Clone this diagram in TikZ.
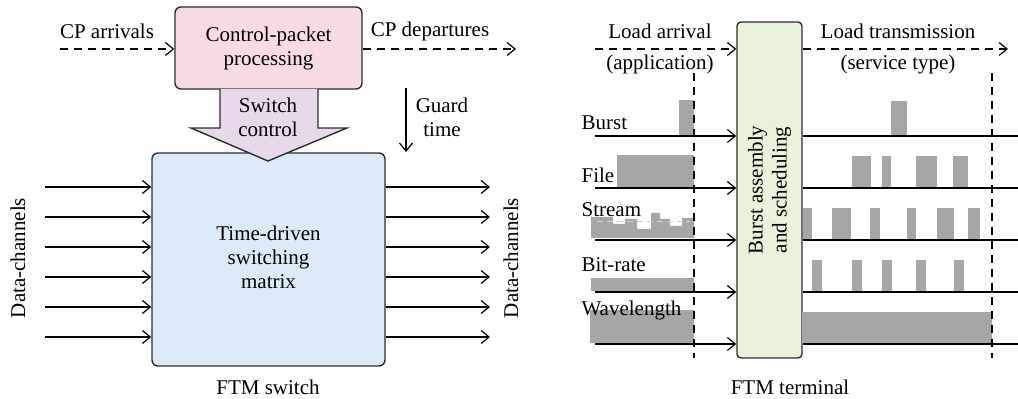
\documentclass[tikz,border=0pt]{standalone}
\usepackage{fontspec}
\setmainfont{Liberation Serif}
\usetikzlibrary{arrows.meta}
\definecolor{cppink}{RGB}{249,219,232}
\definecolor{ctrllilac}{RGB}{231,217,234}
\definecolor{matblue}{RGB}{220,234,247}
\definecolor{asmgreen}{RGB}{233,242,218}
\definecolor{bargray}{RGB}{166,166,166}
\definecolor{edgegray}{RGB}{45,45,45}

\begin{document}
\begin{tikzpicture}[x=0.5pt, y=-0.5pt, line width=0.6pt,
    font=\fontsize{10.5}{12}\selectfont,
    >={Straight Barb[length=4pt,width=6.5pt]},
    box/.style={draw=edgegray, line width=0.7pt, rounded corners=3pt, align=center, inner sep=0pt},
    flow/.style={->, dash pattern=on 4pt off 3pt},
    guide/.style={dash pattern=on 4pt off 3pt},
    chan/.style={->},
    bar/.style={fill=bargray}]
    \useasboundingbox (0,0) rectangle (1018,399);

    % FTM switch
    \node[box, fill=cppink, minimum width=93.5pt, minimum height=41pt] (cpp) at (268.5,48) {Control-packet\\processing};
    \node[box, fill=matblue, minimum width=116.5pt, minimum height=106.5pt] (sw) at (268.5,259.5) {};
    \node[align=center] (swl) at (268.5,257) {Time-driven\\switching\\matrix};

    % Switch control arrow
    \draw[draw=edgegray, line width=0.7pt, fill=ctrllilac]
        (220,89) -- (220,128) -- (191,128) -- (268,161) -- (347,128) -- (318,128) -- (318,89);
    \node[align=center] (swc) at (268,117) {Switch\\control};

    % Control packets
    \coordinate (cpin) at (60,49);
    \coordinate (cpout) at (516,49);
    \draw[flow] (cpin) -- (cpp.west |- cpin);
    \draw[flow] (cpp.east |- cpout) -- (cpout);
    \node (cparr) at (107,31) {CP arrivals};
    \node (cpdep) at (430,31) {CP departures};

    % Guard time
    \coordinate (gtop) at (406,88);
    \coordinate (gbot) at (406,152);
    \draw[->] (gtop) -- (gbot);
    \node[align=center] (guard) at (442,117) {Guard\\time};

    % Data channels
    \foreach \y [count=\i] in {187,217,247,277,307,337} {
        \coordinate (in\i) at (45,\y);
        \coordinate (out\i) at (490,\y);
        \draw[chan] (in\i) -- (in\i -| sw.west);
        \draw[chan] (sw.east |- out\i) -- (out\i);
    }
    \node[rotate=90] (dcin) at (18,258) {Data-channels};
    \node[rotate=90] (dcout) at (511,258) {Data-channels};
    \node (swname) at (268,387) {FTM switch};

    % FTM terminal
    \node[box, fill=asmgreen, rounded corners=2pt, minimum width=32.5pt, minimum height=168pt] (bas) at (769.5,190) {};
    \node[rotate=90, align=center] (basl) at (bas.center) {Burst assembly\\and scheduling};

    \coordinate (ldin) at (595,49);
    \coordinate (ldout) at (1008,49);
    \draw[flow] (ldin) -- (bas.west |- ldin);
    \draw[flow] (bas.east |- ldout) -- (ldout);
    \node (larr) at (660,31) {Load arrival};
    \node (lapp) at (660,64) {(application)};
    \node (ltx) at (898,31) {Load transmission};
    \node (lsrv) at (898,64) {(service type)};

    % Arriving load
    \fill[bar] (679,100) rectangle (694,136);
    \fill[bar] (617,155) rectangle (694,188);
    \fill[bar] (591,238) -- (591,217) -- (613,217) -- (613,224) -- (625,224) -- (625,219) -- (637,219)
        -- (637,229) -- (651,229) -- (651,213) -- (660,213) -- (660,219) -- (670,219) -- (670,226)
        -- (682,226) -- (682,218) -- (694,218) -- (694,238) -- cycle;
    \draw[gray!35, line width=0.5pt, dash pattern=on 3pt off 2pt] (597,222) -- (690,222);
    \fill[bar] (591,278) rectangle (694,291);
    \fill[bar] (590,310) rectangle (694,343);

    % Transmitted load
    \fill[bar] (891,101) rectangle (907,136);
    \foreach \a/\b in {852/871,882/891,916/937,953/968}
        \fill[bar] (\a,156) rectangle (\b,188);
    \foreach \a/\b in {803/812,832/851,870/880,907/916,937/954,968/980}
        \fill[bar] (\a,208) rectangle (\b,240);
    \foreach \a/\b in {812/822,852/862,882/892,916/926,954/964}
        \fill[bar] (\a,260) rectangle (\b,292);
    \fill[bar] (802,312) rectangle (992,344);

    % Rows
    \foreach \y/\ly/\name [count=\i] in {136/123/Burst,188/175/File,240/210/Stream,292/265/Bit-rate,344/310/Wavelength} {
        \coordinate (src\i) at (595,\y);
        \coordinate (snk\i) at (1018,\y);
        \draw[chan] (src\i) -- (src\i -| bas.west);
        \draw (bas.east |- snk\i) -- (snk\i);
        \node[anchor=west, inner sep=0pt] (row\i) at (581,\ly) {\name};
    }

    % Guides
    \coordinate (ga) at (694,73);
    \coordinate (gb) at (694,358);
    \coordinate (gc) at (992,73);
    \coordinate (gd) at (992,358);
    \draw[guide] (ga) -- (gb);
    \draw[guide] (gc) -- (gd);
    \node (tname) at (790,387) {FTM terminal};
\end{tikzpicture}
\end{document}
